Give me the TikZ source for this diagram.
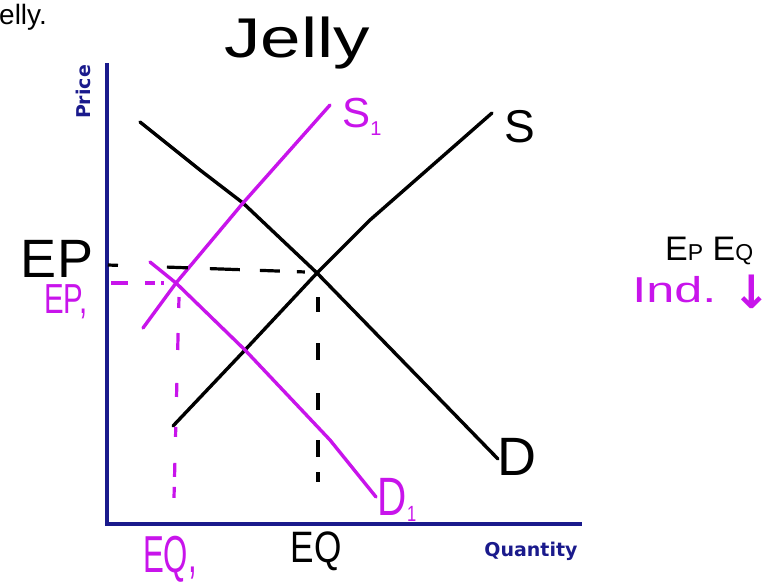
\documentclass[tikz,border=0pt]{standalone}
\usepackage{fontspec}
\setmainfont{Liberation Sans}
\newfontfamily\dejavu{DejaVu Sans}
\definecolor{axisblue}{RGB}{26,26,140}
\definecolor{inkpurple}{RGB}{200,20,235}
\tikzset{
  axisline/.style={draw=axisblue,line width=4pt},
  curveblack/.style={draw=black,line width=3.4pt,line cap=round,line join=round},
  curvepurple/.style={draw=inkpurple,line width=3.4pt,line cap=round,line join=round},
  dashblack/.style={draw=black,line width=3.2pt},
  dashpurple/.style={draw=inkpurple,line width=3.2pt},
  hand/.style={inner sep=0pt,anchor=base,text depth=0pt},
  axislabel/.style={inner sep=0pt,text=axisblue,font=\dejavu\bfseries\fontsize{19}{19}\selectfont},
}
\newcommand{\fsz}[1]{\fontsize{#1}{#1}\selectfont}
\begin{document}
\begin{tikzpicture}[x=1pt,y=-1pt]
\useasboundingbox (0,0) rectangle (781,582);
% axes
\coordinate (ytop) at (107,63);
\coordinate (orig) at (107,524);
\coordinate (xend) at (582,524);
\draw[axisline] (ytop) -- (orig) -- (xend);
\node[axislabel,rotate=90] (price) at (83,92) {Price};
\node[axislabel] (qty) at (531,551) {Quantity};
% title fragments
\node[inner sep=0pt,anchor=base west] (elly) at (-1,24) {\fsz{28}elly.};
\node[hand,xscale=1.3] (jelly) at (297,57) {\fsz{56}Jelly};
% key points
\coordinate (e0) at (317,273);
\coordinate (e1) at (176,283);
% D
\coordinate (d0) at (140,122);
\coordinate (da) at (200,170);
\coordinate (db) at (243,203);
\coordinate (d1) at (498,459);
\draw[curveblack] (d0) -- (da) -- (db) -- (e0) -- (d1);
% S
\coordinate (s0) at (173,426);
\coordinate (sa) at (245,350);
\coordinate (sb) at (370,220);
\coordinate (s1) at (492,113);
\draw[curveblack] (s0) -- (sa) -- (e0) -- (sb) -- (s1);
% S1
\coordinate (p0) at (143,328);
\coordinate (p1) at (330,105);
\draw[curvepurple] (p0) -- (e1) -- (db) -- (p1);
% D1
\coordinate (q0) at (150,262);
\coordinate (qa) at (330,440);
\coordinate (q1) at (376,497);
\draw[curvepurple] (q0) -- (e1) -- (sa) -- (qa) -- (q1);
% dashed guides
\coordinate (epl) at (108,265);
\coordinate (epr) at (306,272);
\draw[dashblack,dash pattern=on 10pt off 49pt on 21pt off 22pt on 30pt off 20pt on 20pt off 17pt on 8pt off 100pt] (epl) -- (epr);
\coordinate (ep1l) at (111,283);
\coordinate (ep1r) at (165,283);
\draw[dashpurple,dash pattern=on 17pt off 17pt on 10pt off 6pt on 3pt off 50pt] (ep1l) -- (ep1r);
\coordinate (eqt) at (318,297);
\coordinate (eqb) at (318,482);
\draw[dashblack,dash pattern=on 15pt off 31pt on 17pt off 33pt on 17pt off 30pt on 17pt off 15pt on 10pt off 100pt] (eqt) -- (eqb);
\coordinate (eq1t) at (179,297);
\coordinate (eq1b) at (174,498);
\draw[dashpurple,dash pattern=on 11pt off 25pt on 17pt off 33pt on 14pt off 30pt on 10pt off 26pt on 14pt off 10pt on 11pt off 100pt] (eq1t) -- (eq1b);
% curve labels
\node[hand] (slab) at (520,142) {\fsz{46}S};
\node[hand,text=inkpurple] (s1lab) at (362,127) {\fsz{42}S\raisebox{-8pt}{\fsz{20}1}};
\node[hand] (dlab) at (517,475) {\fsz{54}D};
\node[hand,text=inkpurple,xscale=0.75] (d1lab) at (397,515) {\fsz{54}D\raisebox{-6pt}{\fsz{22}1}};
% axis value labels
\node[hand,text height=39pt] (eplab) at (57,277) {\fsz{54}EP};
\node[hand,text=inkpurple,xscale=0.7,text height=30pt] (ep1lab) at (66,313) {\fsz{42}EP,};
\node[hand,text=inkpurple,xscale=0.6] (eq1lab) at (170,572) {\fsz{52}EQ,};
\node[hand,xscale=0.8] (eqlab) at (316,562) {\fsz{44}EQ};
% right notes
\node[inner sep=0pt,anchor=base west] (epeq) at (665,260) {\fsz{34}E\fsz{23}P\fsz{34} E\fsz{23}Q};
\node[inner sep=0pt,anchor=base west,text=inkpurple,xscale=1.4] (ind) at (632,302) {\fsz{36}Ind.};
\node[inner sep=0pt,text=inkpurple] (arrow) at (752,292) {\dejavu\bfseries\fsz{46}↓};
\end{tikzpicture}
\end{document}
